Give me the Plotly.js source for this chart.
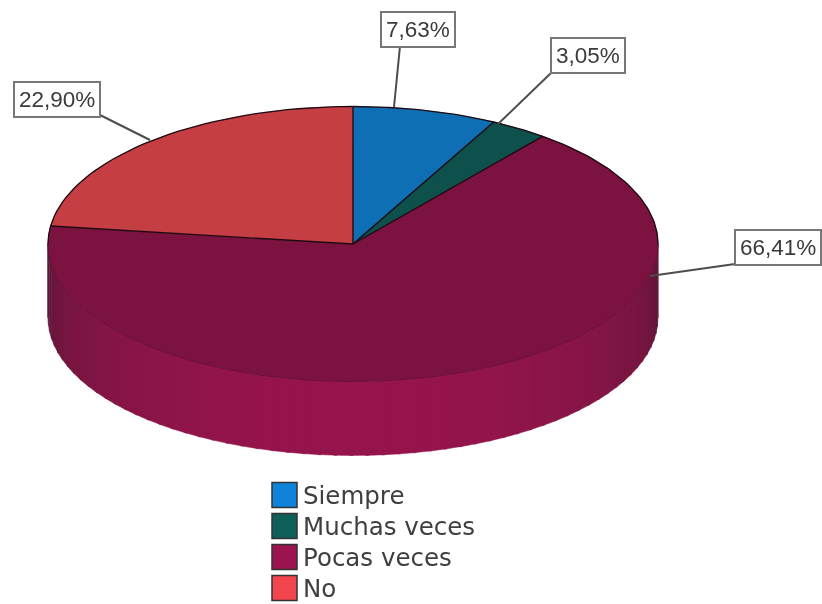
<!DOCTYPE html>
<html><head><meta charset="utf-8">
<script src="https://cdn.plot.ly/plotly-3.0.1.min.js"></script>
<style>html,body{margin:0;padding:0;background:#fff}#c{width:822px;height:604px;filter:blur(0.45px)}</style>
</head><body><div id="c"></div>
<script>
const categories = ['Siempre','Muchas veces','Pocas veces','No'];
const percents = [7.63,3.05,66.41,22.90];
const topColors = ['#0f6fb4','#0d504c','#7c123f','#c43e43'];
const legendColors = ['#0f82dc','#0e5f5a','#9b1450','#f2454e'];
const labelBoxes = [[418,29],[588,55],[777.5,247],[57,99]];
const leaderEnds = [[[400,46],[394,107]],[[551,73],[498,124]],[[735,264],[650,276]],[[100,115],[150,140]]];
const legendRows = [495,526,557,588];

const cx=353, cy=244, rx=305, ry=137.5, depth=74;
const pt=(deg,dy=0)=>{const a=deg*Math.PI/180;return [cx+rx*Math.sin(a),cy-ry*Math.cos(a)+dy];};
const rng=(a,b,n)=>Array.from({length:n+1},(_,i)=>a+(b-a)*i/n);
const mix=(t)=>{const d=[0x58,0x16,0x36],l=[0x96,0x14,0x4c];return 'rgb('+d.map((v,i)=>Math.round(v+(l[i]-v)*t)).join(',')+')';};
const line=(pts,color,width)=>({type:'scatter',mode:'lines',x:pts.map(p=>p[0]),y:pts.map(p=>p[1]),line:{color,width},hoverinfo:'skip',showlegend:false});
const traces=[];
// side wall, shaded in strips
const step=3;
for(let a=90;a<270;a+=step){
  const arc=rng(a,a+step+0.6,2).map(d=>pt(d));
  const low=arc.map(p=>[p[0],p[1]+depth]).reverse();
  const poly=arc.concat(low);
  const mid=a+step/2;
  const t=Math.pow(Math.max(0,-Math.cos(mid*Math.PI/180)),0.7);
  const c=mix(t);
  traces.push({type:'scatter',mode:'lines',x:poly.map(p=>p[0]),y:poly.map(p=>p[1]),fill:'toself',fillcolor:c,line:{color:c,width:0.5},hoverinfo:'skip',showlegend:false});
}
// top face slices: fill first, then outlines
let cum=0;
const outlines=[];
const dark='#1e0a12';
percents.forEach((v,i)=>{
  const start=cum/100*360; cum+=v; const end=cum/100*360;
  const arc=rng(start,end,Math.max(8,Math.round(end-start)));
  const poly=[[cx,cy]].concat(arc.map(d=>pt(d)),[[cx,cy]]);
  traces.push({type:'scatter',mode:'lines',x:poly.map(p=>p[0]),y:poly.map(p=>p[1]),fill:'toself',fillcolor:topColors[i],line:{color:topColors[i],width:0.5},hoverinfo:'skip',showlegend:false,name:categories[i]});
  outlines.push(line([[cx,cy],pt(start)],dark,1.4));
  // the rim is dark at the back and the sides, and faint along the front
  const rightEnd=Math.min(end,90), leftStart=Math.max(start,270);
  if(rightEnd>start) outlines.push(line(rng(start,rightEnd,40).map(d=>pt(d)),dark,1.3));
  if(end>leftStart) outlines.push(line(rng(leftStart,end,40).map(d=>pt(d)),dark,1.3));
});
outlines.push(line(rng(90,270,90).map(d=>pt(d)),'#6a1036',1));
outlines.push(line([pt(90),pt(90,depth)],'#5a1a36',1.2));
outlines.push(line([pt(270),pt(270,depth)],'#4a1a30',1.2));
traces.push(...outlines);
// leader lines
leaderEnds.forEach(l=>traces.push(line(l,'#4d4d4d',2)));
// legend swatches and names
traces.push({type:'scatter',mode:'markers',x:categories.map(()=>284.5),y:legendRows,cliponaxis:false,
  marker:{symbol:'square',size:25,color:legendColors,line:{color:'#333',width:1.5}},hoverinfo:'skip',showlegend:false});
traces.push({type:'scatter',mode:'text',x:categories.map(()=>303),y:legendRows.map(y=>y+3),text:categories,textposition:'middle right',
  textfont:{family:'DejaVu Sans',size:24.5,color:'#3f3f3f'},cliponaxis:false,hoverinfo:'skip',showlegend:false});
const annotations=percents.map((v,i)=>({xref:'x',yref:'y',x:labelBoxes[i][0],y:labelBoxes[i][1],showarrow:false,
  text:v.toFixed(2).replace('.',',')+'%',font:{family:'Liberation Sans',size:22.5,color:'#3a3a3a'},
  bgcolor:'#fff',bordercolor:'#777',borderwidth:2,borderpad:4}));
Plotly.newPlot('c',traces,{width:822,height:604,margin:{l:0,r:0,t:0,b:0},paper_bgcolor:'#fff',plot_bgcolor:'#fff',showlegend:false,
  xaxis:{range:[0,822],visible:false,fixedrange:true},yaxis:{range:[604,0],visible:false,fixedrange:true},annotations},{displayModeBar:false,staticPlot:true});
</script></body></html>
